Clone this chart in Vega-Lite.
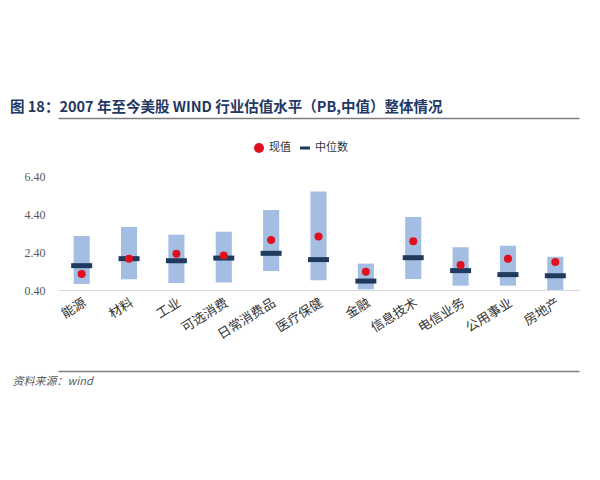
{
  "$schema": "https://vega.github.io/schema/vega-lite/v6.json",
  "width": 521,
  "height": 114,
  "autosize": {"type": "none"},
  "padding": {"left": 58, "top": 176, "right": 21, "bottom": 190},
  "background": "white",
  "config": {
    "view": {"stroke": null},
    "font": "Noto Sans CJK SC",
    "axisY": {
      "title": null,
      "format": ".2f",
      "labelOverlap": false,
      "labelFlush": false,
      "grid": false,
      "ticks": false,
      "domain": false,
      "labelFont": "Liberation Serif",
      "labelFontSize": 12,
      "labelColor": "#595959",
      "labelPadding": 13
    }
  },
  "title": {
    "text": "图 18：2007 年至今美股 WIND 行业估值水平（PB,中值）整体情况",
    "anchor": "start",
    "dx": -2,
    "offset": 3,
    "fontSize": 14.5,
    "fontWeight": "bold",
    "color": "#1f3864",
    "font": "Noto Sans CJK SC"
  },
  "data": {
    "values": [
      {"industry": "能源", "low": 0.72, "high": 3.24, "median": 1.68, "current": 1.24},
      {"industry": "材料", "low": 0.96, "high": 3.72, "median": 2.05, "current": 2.05},
      {"industry": "工业", "low": 0.77, "high": 3.31, "median": 1.94, "current": 2.31},
      {"industry": "可选消费", "low": 0.80, "high": 3.47, "median": 2.08, "current": 2.22},
      {"industry": "日常消费品", "low": 1.40, "high": 4.61, "median": 2.33, "current": 3.03},
      {"industry": "医疗保健", "low": 0.91, "high": 5.59, "median": 2.00, "current": 3.21},
      {"industry": "金融", "low": 0.43, "high": 1.79, "median": 0.87, "current": 1.36},
      {"industry": "信息技术", "low": 0.98, "high": 4.24, "median": 2.10, "current": 2.96},
      {"industry": "电信业务", "low": 0.63, "high": 2.65, "median": 1.42, "current": 1.72},
      {"industry": "公用事业", "low": 0.63, "high": 2.73, "median": 1.21, "current": 2.05},
      {"industry": "房地产", "low": 0.40, "high": 2.15, "median": 1.15, "current": 1.87}
    ]
  },
  "layer": [
    {
      "mark": {"type": "bar", "color": "#a3bde3", "width": {"band": 0.34}},
      "encoding": {
        "x": {
          "field": "industry",
          "type": "nominal",
          "sort": null,
          "scale": {"paddingInner": 0, "paddingOuter": 0},
          "axis": {
            "orient": "bottom",
            "title": null,
            "domainColor": "#d9d9d9",
            "ticks": false,
            "labelAngle": -32,
            "labelFontSize": 13,
            "labelColor": "#333333",
            "labelPadding": 6,
            "labelFont": "Noto Sans CJK SC"
          }
        },
        "y": {
          "field": "low",
          "type": "quantitative",
          "scale": {"domain": [0.4, 6.4], "zero": false, "nice": false},
          "axis": {"values": [0.4, 2.4, 4.4, 6.4]}
        },
        "y2": {"field": "high"}
      }
    },
    {
      "mark": {"type": "tick", "thickness": 5, "size": 21, "opacity": 1},
      "encoding": {
        "x": {
          "field": "industry",
          "type": "nominal",
          "sort": null,
          "axis": {"orient": "top", "offset": 58, "labels": false, "ticks": false, "domainColor": "#7f7f7f", "domainWidth": 1.5, "title": null}
        },
        "y": {"field": "median", "type": "quantitative", "axis": {"values": [0.4, 2.4, 4.4, 6.4]}},
        "color": {
          "datum": "中位数",
          "type": "nominal",
          "scale": {"domain": ["现值", "中位数"], "range": ["#e0101e", "#1f3a5c"]},
          "legend": {
            "orient": "none",
            "legendX": 195,
            "legendY": -34,
            "direction": "horizontal",
            "title": null,
            "labelFontSize": 11,
            "labelColor": "#333333",
            "symbolOpacity": 1,
            "columnPadding": 8
          }
        }
      }
    },
    {
      "mark": {"type": "point", "filled": true, "size": 64, "opacity": 1},
      "encoding": {
        "x": {
          "field": "industry",
          "type": "nominal",
          "sort": null,
          "axis": {
            "orient": "bottom",
            "offset": 81,
            "labels": false,
            "ticks": false,
            "domainColor": "#7f7f7f",
            "domainWidth": 1.5,
            "title": "资料来源：wind",
            "titleX": -46,
            "titleY": 4,
            "titleAlign": "left",
            "titleFontStyle": "italic",
            "titleFontWeight": "normal",
            "titleFontSize": 11,
            "titleColor": "#595959"
          }
        },
        "y": {"field": "current", "type": "quantitative", "axis": {"values": [0.4, 2.4, 4.4, 6.4]}},
        "color": {"datum": "现值", "type": "nominal"},
        "shape": {
          "datum": "现值",
          "type": "nominal",
          "scale": {"domain": ["现值", "中位数"], "range": ["circle", "M-1,-0.3L1,-0.3L1,0.3L-1,0.3Z"]}
        }
      }
    }
  ],
  "resolve": {"axis": {"x": "independent"}}
}
